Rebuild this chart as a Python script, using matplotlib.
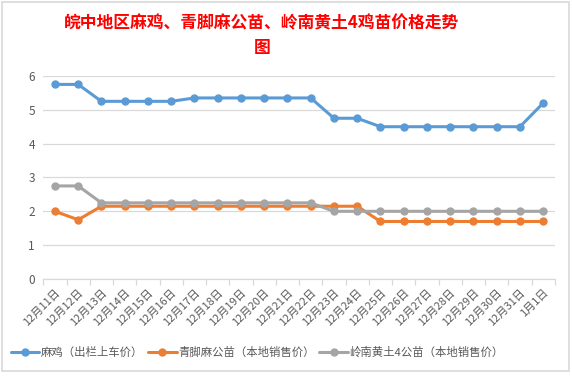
import numpy as np
import matplotlib
matplotlib.use("Agg")
import matplotlib.pyplot as plt
from matplotlib.patches import Rectangle

plt.rcParams['font.family'] = ['Noto Sans CJK SC', 'DejaVu Sans']

# 数据
dates = ["12月11日", "12月12日", "12月13日", "12月14日", "12月15日", "12月16日",
         "12月17日", "12月18日", "12月19日", "12月20日", "12月21日", "12月22日",
         "12月23日", "12月24日", "12月25日", "12月26日", "12月27日", "12月28日",
         "12月29日", "12月30日", "12月31日", "1月1日"]
ma_ji = [5.75, 5.75, 5.25, 5.25, 5.25, 5.25, 5.35, 5.35, 5.35, 5.35, 5.35, 5.35,
         4.75, 4.75, 4.5, 4.5, 4.5, 4.5, 4.5, 4.5, 4.5, 5.2]
qingjiao = [2.0, 1.75, 2.15, 2.15, 2.15, 2.15, 2.15, 2.15, 2.15, 2.15, 2.15, 2.15,
            2.15, 2.15, 1.7, 1.7, 1.7, 1.7, 1.7, 1.7, 1.7, 1.7]
lingnan = [2.75, 2.75, 2.25, 2.25, 2.25, 2.25, 2.25, 2.25, 2.25, 2.25, 2.25, 2.25,
           2.0, 2.0, 2.0, 2.0, 2.0, 2.0, 2.0, 2.0, 2.0, 2.0]
names = ["麻鸡（出栏上车价）", "青脚麻公苗（本地销售价）", "岭南黄土4公苗（本地销售价）"]
colors = ["#5B9BD5", "#ED7D31", "#A5A5A5"]

fig = plt.figure(figsize=(5.72, 3.76), dpi=100)
ax = fig.add_axes([0.0757, 0.258, 0.8943, 0.540])

x = np.arange(len(dates))
for vals, name, c in zip([ma_ji, qingjiao, lingnan], names, colors):
    ax.plot(x, vals, color=c, lw=2.2, marker="o", markersize=5, label=name,
            solid_capstyle="round")

ax.set_xlim(-0.5, len(dates) - 0.5)
ax.set_ylim(0, 6)
ax.set_yticks(range(0, 7))
ax.grid(axis="y", color="#D9D9D9", lw=0.9)
ax.set_axisbelow(True)
for s in ["top", "right", "left"]:
    ax.spines[s].set_visible(False)
ax.spines["bottom"].set_color("#D9D9D9")
ax.spines["bottom"].set_linewidth(0.9)

ax.set_xticks(x)
ax.set_xticklabels(dates, rotation=45, ha="right", rotation_mode="anchor",
                   fontsize=8, color="#595959")
ax.set_xticks(np.arange(-0.5, len(dates), 1), minor=True)
ax.tick_params(axis="x", which="major", length=0, pad=6)
ax.tick_params(axis="x", which="minor", length=4, color="#D9D9D9", width=0.9)
ax.tick_params(axis="y", length=0, labelsize=8.5, labelcolor="#595959", pad=6)

fig.text(0.458, 0.938, "皖中地区麻鸡、青脚麻公苗、岭南黄土4鸡苗价格走势",
         ha="center", va="center", color="red", fontsize=12.1, fontweight="bold")
fig.text(0.458, 0.873, "图", ha="center", va="center", color="red",
         fontsize=12.1, fontweight="bold")

fig.legend(loc="center", bbox_to_anchor=(0.45, 0.063), ncol=3, frameon=False,
           fontsize=8.2, labelcolor="#595959", handlelength=2.5,
           columnspacing=0.4, handletextpad=0.15)

# 图表边框
fig.add_artist(Rectangle((0.004, 0.013), 0.991, 0.981, transform=fig.transFigure,
                         fill=False, edgecolor="#D9D9D9", lw=1.2))

fig.savefig("out.png", dpi=100, facecolor="white")
